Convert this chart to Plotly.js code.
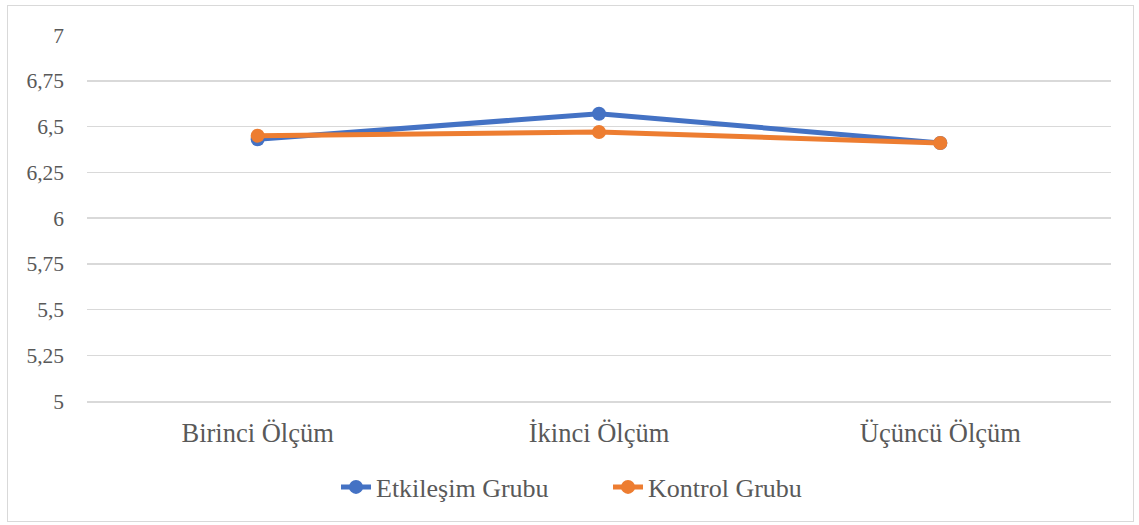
<!DOCTYPE html>
<html>
<head>
<meta charset="utf-8">
<script src="https://cdn.plot.ly/plotly-3.0.1.min.js"></script>
<style>
html,body{margin:0;padding:0;background:#fff;}
#wrap{position:relative;width:1139px;height:525px;}
#chart{width:1139px;height:525px;}
#frame{position:absolute;left:7px;top:5px;width:1125px;height:515px;border:1px solid #d9d9d9;pointer-events:none;}
</style>
</head>
<body>
<div id="wrap"><div id="chart"></div><div id="frame"></div></div>
<script>
var categories = ["Birinci Ölçüm", "İkinci Ölçüm", "Üçüncü Ölçüm"];
var etkilesimGrubu = [6.43, 6.57, 6.41];
var kontrolGrubu = [6.45, 6.47, 6.41];
var seriesNames = ["Etkileşim Grubu", "Kontrol Grubu"];

var font = "'Liberation Serif', 'Times New Roman', serif";
var traces = [
  {x: categories, y: etkilesimGrubu, name: seriesNames[0], type: 'scatter', mode: 'lines+markers',
   line: {color: '#4472C4', width: 5}, marker: {color: '#4472C4', size: 14}},
  {x: categories, y: kontrolGrubu, name: seriesNames[1], type: 'scatter', mode: 'lines+markers',
   line: {color: '#ED7D31', width: 5}, marker: {color: '#ED7D31', size: 14}}
];
var layout = {
  width: 1139, height: 525,
  margin: {l: 87, r: 28, t: 35, b: 124},
  paper_bgcolor: '#fff', plot_bgcolor: '#fff',
  separators: ',.',
  font: {family: font, color: '#595959', size: 20},
  showlegend: true,
  legend: {orientation: 'h', x: 0.5088, xanchor: 'center', y: -0.235, yanchor: 'middle',
           entrywidth: 227, entrywidthmode: 'pixels',
           font: {family: font, size: 26, color: '#595959'}, traceorder: 'normal'},
  xaxis: {type: 'category', range: [-0.5, 2.5], showgrid: false, zeroline: false,
          showline: true, linecolor: '#d9d9d9', linewidth: 1.5, ticks: '',
          ticklabelstandoff: 8, tickfont: {family: font, size: 26.5, color: '#595959'}},
  yaxis: {range: [5, 7], dtick: 0.25, tick0: 5, showgrid: true, gridcolor: '#d9d9d9', gridwidth: 1.5,
          zeroline: false, showline: false, ticks: '', ticklabelstandoff: 22,
          tickfont: {family: font, size: 21.5, color: '#595959'}}
};
Plotly.newPlot('chart', traces, layout, {displayModeBar: false, staticPlot: true});
</script>
</body>
</html>
